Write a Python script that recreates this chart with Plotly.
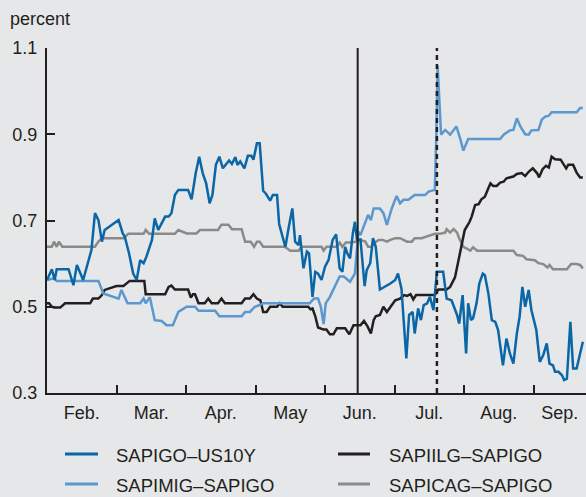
import plotly.graph_objects as go

# ---------------- data (x = months since start of Feb.) ----------------
month_labels = ["Feb.", "Mar.", "Apr.", "May", "Jun.", "Jul.", "Aug.", "Sep."]
y_ticks = [0.3, 0.5, 0.7, 0.9, 1.1]

series_names = ["SAPIGO–US10Y", "SAPIILG–SAPIGO", "SAPIMIG–SAPIGO", "SAPICAG–SAPIGO"]

us10y_x = [0.00,0.07,0.11,0.14,0.31,0.38,0.43,0.52,0.64,0.69,
           0.74,0.79,0.83,1.03,1.09,1.12,1.18,1.24,1.29,1.34,
           1.39,1.43,1.51,1.55,1.60,1.65,1.70,1.75,1.79,1.84,
           1.89,2.03,2.08,2.14,2.19,2.24,2.29,2.34,2.38,2.43,
           2.48,2.53,2.58,2.62,2.66,2.71,2.74,2.78,2.84,2.89,
           2.94,2.97,3.02,3.06,3.11,3.15,3.21,3.25,3.31,3.34,
           3.39,3.43,3.48,3.53,3.57,3.62,3.64,3.69,3.74,3.77,
           3.82,3.86,3.90,3.95,4.00,4.05,4.11,4.16,4.21,4.25,
           4.29,4.32,4.36,4.40,4.43,4.46,4.51,4.57,4.60,4.65,
           4.69,4.73,4.79,4.86,4.94,5.01,5.05,5.10,5.17,5.21,
           5.26,5.29,5.34,5.38,5.42,5.47,5.51,5.56,5.61,5.70,
           5.75,5.82,5.90,5.93,5.98,6.03,6.06,6.10,6.13,6.18,
           6.22,6.27,6.30,6.35,6.40,6.45,6.49,6.56,6.61,6.66,
           6.71,6.76,6.80,6.84,6.88,6.93,6.97,7.04,7.09,7.14,
           7.19,7.23,7.28,7.31,7.36,7.41,7.44,7.48,7.53,7.57,
           7.62,7.71]
us10y_y = [0.562,0.587,0.562,0.587,0.587,0.550,0.597,0.562,0.632,0.717,
           0.701,0.651,0.678,0.701,0.670,0.662,0.624,0.577,0.562,0.608,
           0.601,0.616,0.655,0.705,0.678,0.693,0.709,0.709,0.717,0.759,
           0.771,0.771,0.749,0.810,0.848,0.810,0.786,0.740,0.759,0.829,
           0.848,0.821,0.831,0.839,0.831,0.847,0.829,0.837,0.821,0.850,
           0.850,0.841,0.879,0.879,0.769,0.762,0.746,0.759,0.759,0.692,
           0.662,0.639,0.686,0.728,0.651,0.643,0.666,0.589,0.628,0.624,
           0.523,0.581,0.577,0.562,0.593,0.608,0.655,0.668,0.589,0.581,
           0.639,0.624,0.612,0.670,0.697,0.655,0.656,0.548,0.585,0.601,
           0.659,0.639,0.540,0.546,0.554,0.562,0.577,0.542,0.380,0.481,
           0.488,0.438,0.496,0.469,0.504,0.508,0.523,0.492,0.581,0.581,
           0.519,0.515,0.481,0.461,0.527,0.392,0.508,0.469,0.473,0.508,
           0.554,0.577,0.573,0.531,0.469,0.465,0.446,0.364,0.426,0.392,
           0.368,0.438,0.477,0.546,0.500,0.539,0.492,0.446,0.372,0.388,
           0.415,0.368,0.364,0.349,0.349,0.341,0.330,0.333,0.465,0.357,
           0.357,0.419]

iilg_x = [0.00,0.03,0.07,0.10,0.19,0.23,0.26,0.62,0.66,0.74,
          0.79,0.83,0.93,1.00,1.10,1.16,1.19,1.40,1.42,1.70,
          1.75,1.79,1.84,2.03,2.07,2.10,2.13,2.18,2.27,2.32,
          2.37,2.46,2.51,2.56,2.80,2.85,2.92,2.97,3.02,3.07,
          3.11,3.16,3.21,3.31,3.35,3.39,3.76,3.79,3.82,3.86,
          3.90,3.98,4.02,4.07,4.12,4.17,4.29,4.35,4.41,4.51,
          4.56,4.61,4.66,4.70,4.73,4.79,4.84,4.89,4.94,5.01,
          5.08,5.14,5.18,5.23,5.27,5.31,5.58,5.63,5.75,5.80,
          5.87,5.92,5.96,6.01,6.08,6.11,6.16,6.21,6.25,6.30,
          6.35,6.38,6.42,6.47,6.52,6.57,6.61,6.71,6.76,6.83,
          6.88,6.93,6.99,7.05,7.08,7.13,7.18,7.22,7.26,7.31,
          7.39,7.43,7.47,7.50,7.57,7.62,7.67,7.71]
iilg_y = [0.508,0.508,0.500,0.498,0.498,0.504,0.508,0.508,0.519,0.519,
          0.527,0.539,0.545,0.548,0.548,0.556,0.560,0.560,0.529,0.529,
          0.546,0.549,0.540,0.540,0.521,0.529,0.529,0.508,0.508,0.519,
          0.508,0.508,0.519,0.508,0.508,0.519,0.519,0.529,0.519,0.515,
          0.488,0.488,0.500,0.500,0.508,0.500,0.500,0.494,0.496,0.478,
          0.452,0.447,0.447,0.436,0.436,0.450,0.450,0.436,0.457,0.457,
          0.467,0.455,0.438,0.469,0.478,0.481,0.500,0.488,0.500,0.515,
          0.519,0.527,0.525,0.529,0.517,0.527,0.527,0.540,0.540,0.546,
          0.568,0.608,0.645,0.678,0.697,0.709,0.736,0.738,0.749,0.755,
          0.775,0.786,0.780,0.780,0.788,0.790,0.798,0.802,0.808,0.810,
          0.803,0.813,0.821,0.810,0.800,0.819,0.827,0.823,0.848,0.842,
          0.841,0.831,0.821,0.829,0.829,0.811,0.800,0.800]

mig_x = [0.00,0.10,0.14,0.74,0.81,1.03,1.07,1.16,1.34,1.39,
         1.42,1.48,1.55,1.65,1.72,1.81,1.89,2.01,2.13,2.18,
         2.42,2.48,2.80,2.85,2.92,2.99,3.06,3.11,3.78,3.84,
         3.90,3.94,3.98,4.01,4.07,4.13,4.21,4.27,4.36,4.43,
         4.48,4.51,4.58,4.62,4.66,4.70,4.79,4.84,4.89,4.96,
         5.03,5.08,5.13,5.20,5.29,5.44,5.49,5.58,5.60,5.62,
         5.67,5.73,5.80,5.89,5.95,5.99,6.06,6.52,6.57,6.66,
         6.71,6.76,6.81,6.88,6.93,6.97,7.07,7.12,7.17,7.22,
         7.26,7.62,7.67,7.71]
mig_y = [0.562,0.566,0.560,0.560,0.531,0.519,0.539,0.508,0.508,0.519,
         0.508,0.522,0.469,0.467,0.457,0.457,0.488,0.500,0.500,0.491,
         0.491,0.478,0.478,0.488,0.488,0.500,0.504,0.508,0.508,0.519,
         0.519,0.500,0.460,0.508,0.523,0.542,0.570,0.570,0.558,0.577,
         0.674,0.666,0.697,0.713,0.701,0.728,0.728,0.717,0.690,0.728,
         0.757,0.740,0.748,0.748,0.759,0.759,0.767,0.771,0.887,1.059,
         0.899,0.910,0.899,0.918,0.887,0.862,0.889,0.889,0.899,0.909,
         0.910,0.937,0.918,0.900,0.899,0.909,0.910,0.934,0.941,0.943,
         0.951,0.951,0.961,0.961]

cag_x = [0.00,0.07,0.10,0.14,0.17,0.22,0.26,0.69,0.74,0.79,
         1.10,1.17,1.39,1.42,1.47,1.84,1.89,2.01,2.15,2.20,
         2.46,2.51,2.61,2.66,2.80,2.85,2.93,2.98,3.02,3.06,
         3.11,3.42,3.50,3.62,3.66,3.95,3.98,4.02,4.17,4.21,
         4.25,4.30,4.36,4.46,4.50,4.58,4.62,4.67,4.72,4.77,
         4.83,4.89,4.94,5.01,5.08,5.18,5.25,5.29,5.39,5.49,
         5.58,5.65,5.73,5.75,5.80,5.85,5.90,5.93,5.99,6.04,
         6.09,6.13,6.19,6.71,6.76,6.85,6.90,7.02,7.07,7.14,
         7.20,7.23,7.28,7.48,7.54,7.62,7.67,7.71]
cag_y = [0.639,0.639,0.651,0.639,0.651,0.639,0.639,0.639,0.651,0.659,
         0.659,0.669,0.669,0.678,0.669,0.669,0.678,0.670,0.670,0.678,
         0.678,0.690,0.690,0.680,0.680,0.651,0.651,0.639,0.651,0.651,
         0.639,0.639,0.630,0.630,0.639,0.639,0.630,0.639,0.639,0.649,
         0.639,0.649,0.649,0.651,0.655,0.651,0.639,0.639,0.649,0.655,
         0.655,0.651,0.655,0.659,0.659,0.651,0.651,0.659,0.659,0.664,
         0.669,0.669,0.672,0.680,0.672,0.680,0.672,0.659,0.639,0.635,
         0.630,0.638,0.630,0.630,0.620,0.618,0.610,0.608,0.601,0.599,
         0.591,0.597,0.587,0.587,0.599,0.599,0.597,0.589]

event_solid_x = [4.47]
event_dotted_x = [5.61]

# ---------------- styling ----------------
W, H = 586, 497
ML, MR, MT, MB = 47, 0, 48, 104
BG = "#e6e7e8"
TXT = "#231f20"
C_DARK = "#0a66a6"
C_LIGHT = "#5a98cf"
C_BLACK = "#231f20"
C_GRAY = "#8a8a8a"
FONT = "Liberation Sans, Arial, Helvetica, sans-serif"
FS = 18
FS_LEG = 18.5
X_MAX = 7.755

colors = {series_names[0]: C_DARK, series_names[1]: C_BLACK,
          series_names[2]: C_LIGHT, series_names[3]: C_GRAY}

fig = go.Figure()
draw = [(series_names[3], cag_x, cag_y),
        (series_names[1], iilg_x, iilg_y),
        (series_names[2], mig_x, mig_y),
        (series_names[0], us10y_x, us10y_y)]
for name, xs, ys in draw:
    fig.add_trace(go.Scatter(x=xs, y=ys, mode="lines", name=name,
                             line=dict(color=colors[name], width=2.5),
                             showlegend=False))

for xv in event_solid_x:
    fig.add_shape(type="line", xref="x", yref="y", x0=xv, x1=xv,
                  y0=y_ticks[0], y1=y_ticks[-1],
                  line=dict(color=C_BLACK, width=2))
for xv in event_dotted_x:
    fig.add_shape(type="line", xref="x", yref="y", x0=xv, x1=xv,
                  y0=y_ticks[0], y1=y_ticks[-1],
                  line=dict(color=C_BLACK, width=2.5, dash="5px,4px"))

# month ticks at boundaries, labels centred in each month
boundaries = list(range(1, len(month_labels)))
label_pos = [(i + min(i + 1, X_MAX)) / 2 for i in range(len(month_labels))]

pw = W - ML - MR
ph = H - MT - MB
def px_x(px):
    return (px - ML) / pw
def px_y(py):
    return (H - MB - py) / ph

# manual legend (2 x 2)
leg_cols = [(65, 98, 114), (338, 370, 387)]
leg_rows = [455, 485]
legend_order = [series_names[0], series_names[1], series_names[2], series_names[3]]
for k, name in enumerate(legend_order):
    col = leg_cols[k % 2]
    row = leg_rows[k // 2]
    fig.add_shape(type="line", xref="paper", yref="paper",
                  x0=px_x(col[0]), x1=px_x(col[1]), y0=px_y(row - 1), y1=px_y(row - 1),
                  line=dict(color=colors[name], width=3))
    fig.add_annotation(xref="paper", yref="paper", x=px_x(col[2]), y=px_y(row),
                       text=name, showarrow=False, xanchor="left", yanchor="middle",
                       font=dict(size=FS_LEG, color=TXT, family=FONT))

fig.add_annotation(xref="paper", yref="paper", x=px_x(8), y=px_y(19),
                   text="percent", showarrow=False, xanchor="left", yanchor="middle",
                   font=dict(size=FS, color=TXT, family=FONT))

fig.update_layout(
    width=W, height=H,
    margin=dict(l=ML, r=MR, t=MT, b=MB, pad=0, autoexpand=False),
    paper_bgcolor=BG, plot_bgcolor=BG,
    showlegend=False,
    font=dict(family=FONT, size=FS, color=TXT),
)
fig.update_xaxes(
    range=[0, X_MAX], showgrid=False, zeroline=False, automargin=False,
    showline=True, linecolor=TXT, linewidth=2,
    tickmode="array", tickvals=label_pos, ticktext=month_labels, ticks="",
    ticklabelstandoff=2,
    minor=dict(tickmode="array", tickvals=boundaries, ticks="inside",
               ticklen=8, tickwidth=2, tickcolor=TXT, showgrid=False),
    tickfont=dict(size=FS, color=TXT, family=FONT),
)
fig.update_yaxes(
    range=[y_ticks[0], y_ticks[-1]], showgrid=False, zeroline=False, automargin=False,
    showline=True, linecolor=TXT, linewidth=2,
    tickmode="array", tickvals=y_ticks, ticktext=[f"{v:.1f}" for v in y_ticks],
    ticks="inside", ticklen=8, tickwidth=2, tickcolor=TXT,
    ticklabelstandoff=4,
    tickfont=dict(size=FS, color=TXT, family=FONT),
)

fig.write_html("out.html", config={"displayModeBar": False},
               post_script="document.body.style.margin='0';document.body.style.background='" + BG + "';")
